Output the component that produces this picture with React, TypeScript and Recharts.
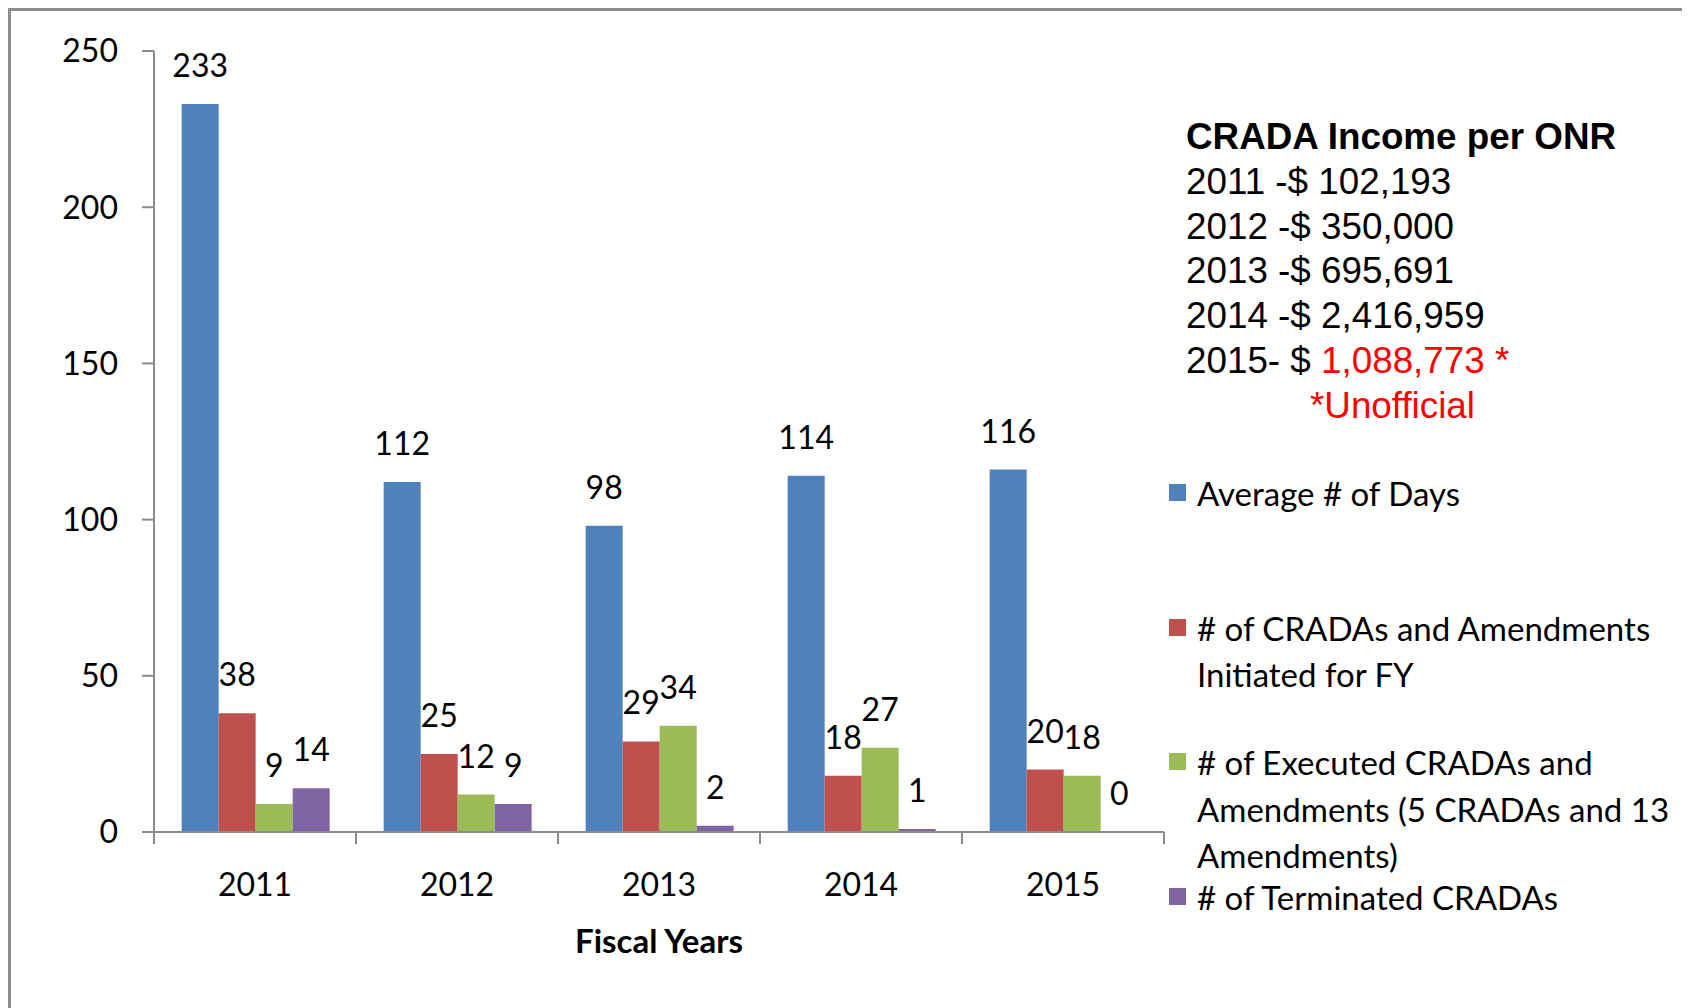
import { BarChart, Bar, XAxis, YAxis, LabelList } from "recharts";

const YEARS = ["2011", "2012", "2013", "2014", "2015"];
const AVG_DAYS = [233, 112, 98, 114, 116];
const INITIATED = [38, 25, 29, 18, 20];
const EXECUTED = [9, 12, 34, 27, 18];
const TERMINATED = [14, 9, 2, 1, 0];
const Y_TICKS = [0, 50, 100, 150, 200, 250];

const SERIES_NAMES = [
  "Average # of Days",
  "# of CRADAs and Amendments Initiated for FY",
  "# of Executed CRADAs and Amendments (5 CRADAs and 13 Amendments)",
  "# of Terminated CRADAs",
];
const SERIES_KEYS = ["avgDays", "initiated", "executed", "terminated"];
const SERIES_VALUES = [AVG_DAYS, INITIATED, EXECUTED, TERMINATED];
const SERIES_COLORS = ["#4F81BD", "#C0504D", "#9BBB59", "#8064A2"];

const INCOME_TITLE = "CRADA Income per ONR";
const INCOME_LINES = ["2011 -$ 102,193", "2012 -$ 350,000", "2013 -$ 695,691", "2014 -$ 2,416,959"];
const INCOME_LAST_PREFIX = "2015- $ ";
const INCOME_LAST_VALUE = "1,088,773 *";
const UNOFFICIAL_NOTE = "*Unofficial";

const data = YEARS.map((year, i) => {
  const row: Record<string, string | number> = { year };
  SERIES_KEYS.forEach((k, s) => {
    row[k] = SERIES_VALUES[s][i];
  });
  return row;
});

// layout
const CHART_W = 1674;
const CHART_H = 990;
const MARGIN = { top: 40, right: 521, bottom: 44, left: 10 };
const Y_AXIS_W = 133;
const X_AXIS_H = 125;
const PLOT_W = CHART_W - MARGIN.left - MARGIN.right - Y_AXIS_W;
const BAND = PLOT_W / YEARS.length;
const TICK_SIZE = 12;
const X_TICK_MARGIN = 29;
const AXIS_GRAY = "#8c8c8c";
const FONT = "Lato, 'Noto Sans', sans-serif";
const FS = 32;

const XTick = (props: any) => {
  const { x, y, payload } = props;
  const axisY = y - TICK_SIZE - X_TICK_MARGIN;
  const half = BAND / 2;
  const last = YEARS.indexOf(payload.value) === YEARS.length - 1;
  return (
    <g>
      <line x1={x - half} x2={x - half} y1={axisY} y2={axisY + TICK_SIZE} stroke={AXIS_GRAY} strokeWidth={2} />
      {last && (
        <line x1={x + half} x2={x + half} y1={axisY} y2={axisY + TICK_SIZE} stroke={AXIS_GRAY} strokeWidth={2} />
      )}
      <text x={x} y={y} dy="0.72em" textAnchor="middle" fill="#000" fontSize={FS} fontFamily={FONT}>
        {payload.value}
      </text>
    </g>
  );
};

export default function App() {
  return (
    <div
      style={{
        position: "relative",
        width: 1674,
        height: 997,
        border: `3px solid ${AXIS_GRAY}`,
        borderBottom: "none",
        background: "#fff",
      }}
    >
      <BarChart
        width={CHART_W}
        height={CHART_H}
        data={data}
        margin={MARGIN}
        barCategoryGap="13.7%"
        barGap={0}
      >
        <XAxis
          dataKey="year"
          interval={0}
          height={X_AXIS_H}
          tickLine={false}
          tickSize={TICK_SIZE}
          tickMargin={X_TICK_MARGIN}
          axisLine={{ stroke: AXIS_GRAY, strokeWidth: 2 }}
          tick={<XTick />}
          label={{
            value: "Fiscal Years",
            position: "insideBottom",
            offset: 4,
            fill: "#000",
            fontSize: 33,
            fontWeight: "bold",
            fontFamily: FONT,
          }}
        />
        <YAxis
          width={Y_AXIS_W}
          domain={[0, 250]}
          ticks={Y_TICKS}
          interval={0}
          tickSize={TICK_SIZE}
          tickMargin={24}
          axisLine={{ stroke: AXIS_GRAY, strokeWidth: 2 }}
          tickLine={{ stroke: AXIS_GRAY, strokeWidth: 2 }}
          tick={{ fill: "#000", fontSize: FS, fontFamily: FONT }}
        />
        {SERIES_KEYS.map((k, s) => (
          <Bar
            key={k}
            dataKey={k}
            name={SERIES_NAMES[s]}
            fill={SERIES_COLORS[s]}
            minPointSize={0.01}
            isAnimationActive={false}
          >
            <LabelList dataKey={k} position="top" offset={27} fill="#000" fontSize={FS} fontFamily={FONT} />
          </Bar>
        ))}
      </BarChart>

      {/* income note */}
      <div
        style={{
          position: "absolute",
          left: 1175,
          top: 104,
          fontFamily: "'Liberation Sans', Arial, sans-serif",
          fontSize: 36.8,
          lineHeight: "44.8px",
          color: "#000",
          whiteSpace: "nowrap",
        }}
      >
        <div style={{ fontWeight: "bold" }}>{INCOME_TITLE}</div>
        {INCOME_LINES.map((l) => (
          <div key={l}>{l}</div>
        ))}
        <div>
          {INCOME_LAST_PREFIX}
          <span style={{ color: "#ff0000" }}>{INCOME_LAST_VALUE}</span>
        </div>
        <div style={{ color: "#ff0000", marginLeft: 124 }}>{UNOFFICIAL_NOTE}</div>
      </div>

      {/* legend */}
      {SERIES_NAMES.map((name, s) => (
        <div
          key={name}
          style={{
            position: "absolute",
            left: 1158,
            top: 459 + s * 134.5,
            fontFamily: FONT,
            fontSize: 33,
            lineHeight: "46.5px",
            color: "#000",
          }}
        >
          <div
            style={{
              position: "absolute",
              left: 0,
              top: 14,
              width: 17,
              height: 17,
              background: SERIES_COLORS[s],
            }}
          />
          <div style={{ marginLeft: 28, width: 500 }}>{name}</div>
        </div>
      ))}
    </div>
  );
}
